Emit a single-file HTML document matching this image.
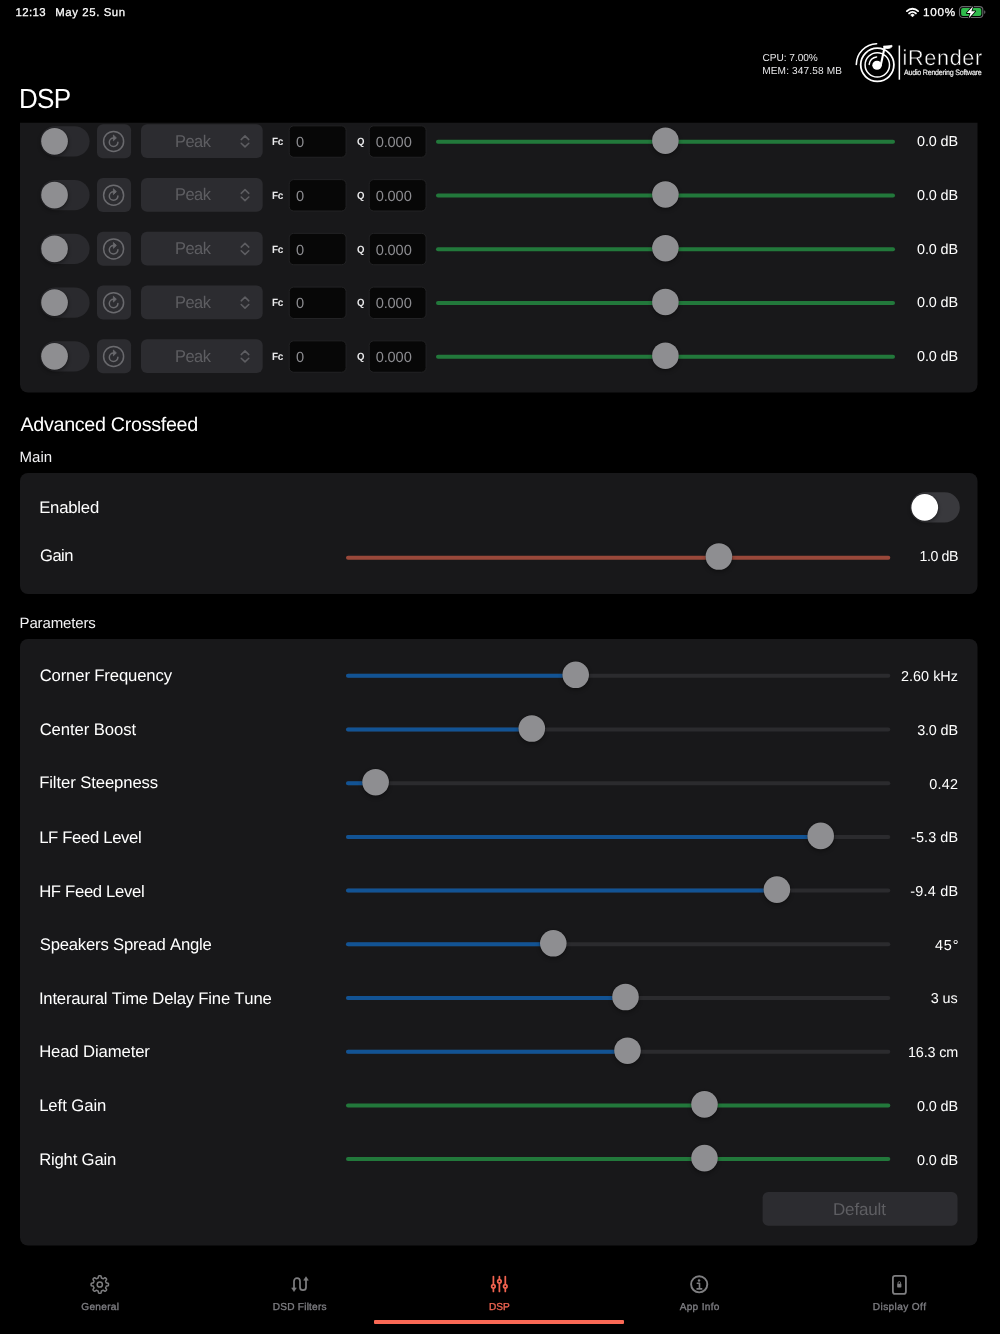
<!DOCTYPE html><html><head><meta charset="utf-8"><title>DSP</title><style>*{box-sizing:border-box;margin:0;padding:0}
html,body{width:1000px;height:1334px;background:#000;overflow:hidden}
body{position:relative;font-family:"Liberation Sans",sans-serif;color:#fff;text-rendering:geometricPrecision;font-kerning:none}
div{position:absolute;white-space:nowrap}
svg{position:absolute;overflow:visible}
.ind{left:374px;top:1319.8px;width:250px;height:4.2px;background:#fa6955;border-radius:1px}
</style></head><body>
<svg style="left:0;top:0" width="1000" height="1334" viewBox="0 0 1000 1334"><defs><filter id="kb" x="-50%" y="-50%" width="200%" height="200%"><feGaussianBlur stdDeviation="2"/></filter></defs><path d="M20 122.8H977.5V384.5a8 8 0 0 1-8 8H28a8 8 0 0 1-8-8z" fill="#18181a"/><rect x="20.00" y="473.00" width="957.50" height="121.00" rx="8" fill="#18181a"/><rect x="20.00" y="639.00" width="957.50" height="606.60" rx="8" fill="#18181a"/><rect x="40.20" y="126.15" width="49.4" height="30.3" rx="15.15" fill="#2a2a2e"/><circle cx="54.55" cy="143.30" r="13.35" fill="#000" opacity="0.4" filter="url(#kb)"/><circle cx="54.55" cy="141.30" r="13.85" fill="#000" opacity="0.22"/><circle cx="54.55" cy="141.30" r="13.35" fill="#8e8e91"/><rect x="97.00" y="124.20" width="34.10" height="34.10" rx="6" fill="#2c2c30"/><g transform="translate(97.00 124.20)" fill="none" stroke="#6a6a6e" stroke-width="1.5"><circle cx="16.6" cy="17.2" r="10"/><path d="M20.9 18a4.3 4.3 0 1 1-4.3-4.3" stroke-linecap="round"/><path d="M16.4 10.8l3 2.9-3 2.9z" fill="#6a6a6e" stroke-width="0.8" stroke-linejoin="round"/></g><rect x="141.00" y="124.20" width="121.70" height="33.90" rx="6" fill="#2c2c30"/><path transform="translate(239.00 132.30)" d="M2.2 7.3l3.8-3.7 3.8 3.7M2.2 10.9l3.8 3.7 3.8-3.7" fill="none" stroke="#5e5e62" stroke-width="1.5" stroke-linecap="round" stroke-linejoin="round"/><rect x="289.20" y="125.85" width="56.90" height="31.40" rx="4.5" fill="#070707" stroke="#232325" stroke-width="1"/><rect x="369.20" y="125.85" width="56.90" height="31.40" rx="4.5" fill="#070707" stroke="#232325" stroke-width="1"/><path d="M438.00 141.70H893.00" stroke="#22783b" stroke-width="4" stroke-linecap="round"/><circle cx="665.40" cy="142.70" r="13.30" fill="#000" opacity="0.34" filter="url(#kb)"/><circle cx="665.40" cy="140.70" r="13.80" fill="#000" opacity="0.22"/><circle cx="665.40" cy="140.70" r="13.30" fill="#8e8e91"/><rect x="40.20" y="179.90" width="49.4" height="30.3" rx="15.15" fill="#2a2a2e"/><circle cx="54.55" cy="197.05" r="13.35" fill="#000" opacity="0.4" filter="url(#kb)"/><circle cx="54.55" cy="195.05" r="13.85" fill="#000" opacity="0.22"/><circle cx="54.55" cy="195.05" r="13.35" fill="#8e8e91"/><rect x="97.00" y="177.95" width="34.10" height="34.10" rx="6" fill="#2c2c30"/><g transform="translate(97.00 177.95)" fill="none" stroke="#6a6a6e" stroke-width="1.5"><circle cx="16.6" cy="17.2" r="10"/><path d="M20.9 18a4.3 4.3 0 1 1-4.3-4.3" stroke-linecap="round"/><path d="M16.4 10.8l3 2.9-3 2.9z" fill="#6a6a6e" stroke-width="0.8" stroke-linejoin="round"/></g><rect x="141.00" y="177.95" width="121.70" height="33.90" rx="6" fill="#2c2c30"/><path transform="translate(239.00 186.05)" d="M2.2 7.3l3.8-3.7 3.8 3.7M2.2 10.9l3.8 3.7 3.8-3.7" fill="none" stroke="#5e5e62" stroke-width="1.5" stroke-linecap="round" stroke-linejoin="round"/><rect x="289.20" y="179.60" width="56.90" height="31.40" rx="4.5" fill="#070707" stroke="#232325" stroke-width="1"/><rect x="369.20" y="179.60" width="56.90" height="31.40" rx="4.5" fill="#070707" stroke="#232325" stroke-width="1"/><path d="M438.00 195.45H893.00" stroke="#22783b" stroke-width="4" stroke-linecap="round"/><circle cx="665.40" cy="196.45" r="13.30" fill="#000" opacity="0.34" filter="url(#kb)"/><circle cx="665.40" cy="194.45" r="13.80" fill="#000" opacity="0.22"/><circle cx="665.40" cy="194.45" r="13.30" fill="#8e8e91"/><rect x="40.20" y="233.65" width="49.4" height="30.3" rx="15.15" fill="#2a2a2e"/><circle cx="54.55" cy="250.80" r="13.35" fill="#000" opacity="0.4" filter="url(#kb)"/><circle cx="54.55" cy="248.80" r="13.85" fill="#000" opacity="0.22"/><circle cx="54.55" cy="248.80" r="13.35" fill="#8e8e91"/><rect x="97.00" y="231.70" width="34.10" height="34.10" rx="6" fill="#2c2c30"/><g transform="translate(97.00 231.70)" fill="none" stroke="#6a6a6e" stroke-width="1.5"><circle cx="16.6" cy="17.2" r="10"/><path d="M20.9 18a4.3 4.3 0 1 1-4.3-4.3" stroke-linecap="round"/><path d="M16.4 10.8l3 2.9-3 2.9z" fill="#6a6a6e" stroke-width="0.8" stroke-linejoin="round"/></g><rect x="141.00" y="231.70" width="121.70" height="33.90" rx="6" fill="#2c2c30"/><path transform="translate(239.00 239.80)" d="M2.2 7.3l3.8-3.7 3.8 3.7M2.2 10.9l3.8 3.7 3.8-3.7" fill="none" stroke="#5e5e62" stroke-width="1.5" stroke-linecap="round" stroke-linejoin="round"/><rect x="289.20" y="233.35" width="56.90" height="31.40" rx="4.5" fill="#070707" stroke="#232325" stroke-width="1"/><rect x="369.20" y="233.35" width="56.90" height="31.40" rx="4.5" fill="#070707" stroke="#232325" stroke-width="1"/><path d="M438.00 249.20H893.00" stroke="#22783b" stroke-width="4" stroke-linecap="round"/><circle cx="665.40" cy="250.20" r="13.30" fill="#000" opacity="0.34" filter="url(#kb)"/><circle cx="665.40" cy="248.20" r="13.80" fill="#000" opacity="0.22"/><circle cx="665.40" cy="248.20" r="13.30" fill="#8e8e91"/><rect x="40.20" y="287.40" width="49.4" height="30.3" rx="15.15" fill="#2a2a2e"/><circle cx="54.55" cy="304.55" r="13.35" fill="#000" opacity="0.4" filter="url(#kb)"/><circle cx="54.55" cy="302.55" r="13.85" fill="#000" opacity="0.22"/><circle cx="54.55" cy="302.55" r="13.35" fill="#8e8e91"/><rect x="97.00" y="285.45" width="34.10" height="34.10" rx="6" fill="#2c2c30"/><g transform="translate(97.00 285.45)" fill="none" stroke="#6a6a6e" stroke-width="1.5"><circle cx="16.6" cy="17.2" r="10"/><path d="M20.9 18a4.3 4.3 0 1 1-4.3-4.3" stroke-linecap="round"/><path d="M16.4 10.8l3 2.9-3 2.9z" fill="#6a6a6e" stroke-width="0.8" stroke-linejoin="round"/></g><rect x="141.00" y="285.45" width="121.70" height="33.90" rx="6" fill="#2c2c30"/><path transform="translate(239.00 293.55)" d="M2.2 7.3l3.8-3.7 3.8 3.7M2.2 10.9l3.8 3.7 3.8-3.7" fill="none" stroke="#5e5e62" stroke-width="1.5" stroke-linecap="round" stroke-linejoin="round"/><rect x="289.20" y="287.10" width="56.90" height="31.40" rx="4.5" fill="#070707" stroke="#232325" stroke-width="1"/><rect x="369.20" y="287.10" width="56.90" height="31.40" rx="4.5" fill="#070707" stroke="#232325" stroke-width="1"/><path d="M438.00 302.95H893.00" stroke="#22783b" stroke-width="4" stroke-linecap="round"/><circle cx="665.40" cy="303.95" r="13.30" fill="#000" opacity="0.34" filter="url(#kb)"/><circle cx="665.40" cy="301.95" r="13.80" fill="#000" opacity="0.22"/><circle cx="665.40" cy="301.95" r="13.30" fill="#8e8e91"/><rect x="40.20" y="341.15" width="49.4" height="30.3" rx="15.15" fill="#2a2a2e"/><circle cx="54.55" cy="358.30" r="13.35" fill="#000" opacity="0.4" filter="url(#kb)"/><circle cx="54.55" cy="356.30" r="13.85" fill="#000" opacity="0.22"/><circle cx="54.55" cy="356.30" r="13.35" fill="#8e8e91"/><rect x="97.00" y="339.20" width="34.10" height="34.10" rx="6" fill="#2c2c30"/><g transform="translate(97.00 339.20)" fill="none" stroke="#6a6a6e" stroke-width="1.5"><circle cx="16.6" cy="17.2" r="10"/><path d="M20.9 18a4.3 4.3 0 1 1-4.3-4.3" stroke-linecap="round"/><path d="M16.4 10.8l3 2.9-3 2.9z" fill="#6a6a6e" stroke-width="0.8" stroke-linejoin="round"/></g><rect x="141.00" y="339.20" width="121.70" height="33.90" rx="6" fill="#2c2c30"/><path transform="translate(239.00 347.30)" d="M2.2 7.3l3.8-3.7 3.8 3.7M2.2 10.9l3.8 3.7 3.8-3.7" fill="none" stroke="#5e5e62" stroke-width="1.5" stroke-linecap="round" stroke-linejoin="round"/><rect x="289.20" y="340.85" width="56.90" height="31.40" rx="4.5" fill="#070707" stroke="#232325" stroke-width="1"/><rect x="369.20" y="340.85" width="56.90" height="31.40" rx="4.5" fill="#070707" stroke="#232325" stroke-width="1"/><path d="M438.00 356.70H893.00" stroke="#22783b" stroke-width="4" stroke-linecap="round"/><circle cx="665.40" cy="357.70" r="13.30" fill="#000" opacity="0.34" filter="url(#kb)"/><circle cx="665.40" cy="355.70" r="13.80" fill="#000" opacity="0.22"/><circle cx="665.40" cy="355.70" r="13.30" fill="#8e8e91"/><rect x="910.40" y="492.25" width="49.4" height="30.3" rx="15.15" fill="#39393d"/><circle cx="924.75" cy="509.40" r="13.35" fill="#000" opacity="0.4" filter="url(#kb)"/><circle cx="924.75" cy="507.40" r="13.85" fill="#000" opacity="0.22"/><circle cx="924.75" cy="507.40" r="13.35" fill="#fff"/><path d="M348.00 557.80H888.30" stroke="#99483a" stroke-width="4" stroke-linecap="round"/><circle cx="718.90" cy="558.50" r="13.30" fill="#000" opacity="0.34" filter="url(#kb)"/><circle cx="718.90" cy="556.50" r="13.80" fill="#000" opacity="0.22"/><circle cx="718.90" cy="556.50" r="13.30" fill="#8e8e91"/><path d="M348.00 675.80H888.30" stroke="#2b2b2e" stroke-width="4" stroke-linecap="round"/><path d="M348.00 675.80H575.70" stroke="#125394" stroke-width="4" stroke-linecap="round"/><circle cx="575.70" cy="676.80" r="13.30" fill="#000" opacity="0.34" filter="url(#kb)"/><circle cx="575.70" cy="674.80" r="13.80" fill="#000" opacity="0.22"/><circle cx="575.70" cy="674.80" r="13.30" fill="#8e8e91"/><path d="M348.00 729.50H888.30" stroke="#2b2b2e" stroke-width="4" stroke-linecap="round"/><path d="M348.00 729.50H531.80" stroke="#125394" stroke-width="4" stroke-linecap="round"/><circle cx="531.80" cy="730.50" r="13.30" fill="#000" opacity="0.34" filter="url(#kb)"/><circle cx="531.80" cy="728.50" r="13.80" fill="#000" opacity="0.22"/><circle cx="531.80" cy="728.50" r="13.30" fill="#8e8e91"/><path d="M348.00 783.20H888.30" stroke="#2b2b2e" stroke-width="4" stroke-linecap="round"/><path d="M348.00 783.20H375.60" stroke="#125394" stroke-width="4" stroke-linecap="round"/><circle cx="375.60" cy="784.20" r="13.30" fill="#000" opacity="0.34" filter="url(#kb)"/><circle cx="375.60" cy="782.20" r="13.80" fill="#000" opacity="0.22"/><circle cx="375.60" cy="782.20" r="13.30" fill="#8e8e91"/><path d="M348.00 836.90H888.30" stroke="#2b2b2e" stroke-width="4" stroke-linecap="round"/><path d="M348.00 836.90H820.70" stroke="#125394" stroke-width="4" stroke-linecap="round"/><circle cx="820.70" cy="837.90" r="13.30" fill="#000" opacity="0.34" filter="url(#kb)"/><circle cx="820.70" cy="835.90" r="13.80" fill="#000" opacity="0.22"/><circle cx="820.70" cy="835.90" r="13.30" fill="#8e8e91"/><path d="M348.00 890.60H888.30" stroke="#2b2b2e" stroke-width="4" stroke-linecap="round"/><path d="M348.00 890.60H776.90" stroke="#125394" stroke-width="4" stroke-linecap="round"/><circle cx="776.90" cy="891.60" r="13.30" fill="#000" opacity="0.34" filter="url(#kb)"/><circle cx="776.90" cy="889.60" r="13.80" fill="#000" opacity="0.22"/><circle cx="776.90" cy="889.60" r="13.30" fill="#8e8e91"/><path d="M348.00 944.30H888.30" stroke="#2b2b2e" stroke-width="4" stroke-linecap="round"/><path d="M348.00 944.30H553.30" stroke="#125394" stroke-width="4" stroke-linecap="round"/><circle cx="553.30" cy="945.30" r="13.30" fill="#000" opacity="0.34" filter="url(#kb)"/><circle cx="553.30" cy="943.30" r="13.80" fill="#000" opacity="0.22"/><circle cx="553.30" cy="943.30" r="13.30" fill="#8e8e91"/><path d="M348.00 998.00H888.30" stroke="#2b2b2e" stroke-width="4" stroke-linecap="round"/><path d="M348.00 998.00H625.50" stroke="#125394" stroke-width="4" stroke-linecap="round"/><circle cx="625.50" cy="999.00" r="13.30" fill="#000" opacity="0.34" filter="url(#kb)"/><circle cx="625.50" cy="997.00" r="13.80" fill="#000" opacity="0.22"/><circle cx="625.50" cy="997.00" r="13.30" fill="#8e8e91"/><path d="M348.00 1051.70H888.30" stroke="#2b2b2e" stroke-width="4" stroke-linecap="round"/><path d="M348.00 1051.70H627.50" stroke="#125394" stroke-width="4" stroke-linecap="round"/><circle cx="627.50" cy="1052.70" r="13.30" fill="#000" opacity="0.34" filter="url(#kb)"/><circle cx="627.50" cy="1050.70" r="13.80" fill="#000" opacity="0.22"/><circle cx="627.50" cy="1050.70" r="13.30" fill="#8e8e91"/><path d="M348.00 1105.40H888.30" stroke="#22783b" stroke-width="4" stroke-linecap="round"/><circle cx="704.50" cy="1106.40" r="13.30" fill="#000" opacity="0.34" filter="url(#kb)"/><circle cx="704.50" cy="1104.40" r="13.80" fill="#000" opacity="0.22"/><circle cx="704.50" cy="1104.40" r="13.30" fill="#8e8e91"/><path d="M348.00 1159.10H888.30" stroke="#22783b" stroke-width="4" stroke-linecap="round"/><circle cx="704.50" cy="1160.10" r="13.30" fill="#000" opacity="0.34" filter="url(#kb)"/><circle cx="704.50" cy="1158.10" r="13.80" fill="#000" opacity="0.22"/><circle cx="704.50" cy="1158.10" r="13.30" fill="#8e8e91"/><rect x="762.60" y="1192.10" width="194.90" height="33.60" rx="5.5" fill="#2c2c30"/></svg>
<div style="left:15.43px;top:6.00px;font-size:11.4px;line-height:15px;letter-spacing:0.410px;color:#fff;-webkit-text-stroke:0.25px #fff;">12:13</div>
<div style="left:55.26px;top:6.00px;font-size:11.4px;line-height:15px;letter-spacing:0.587px;color:#fff;-webkit-text-stroke:0.25px #fff;">May 25. Sun</div>
<div style="left:922.91px;top:6.00px;font-size:11.4px;line-height:15px;letter-spacing:0.684px;color:#fff;transform:scaleX(1.0289);transform-origin:0 0;-webkit-text-stroke:0.25px #fff;">100%</div>
<svg style="left:904px;top:5px" width="17" height="14" viewBox="0 0 17 14"><path d="M2.9 6.1a8 8 0 0 1 11.2 0M5.1 8.4a4.9 4.9 0 0 1 6.8 0" fill="none" stroke="#fff" stroke-width="1.9" stroke-linecap="round"/><path d="M8.5 11.9l-1.9-2a2.7 2.7 0 0 1 3.8 0z" fill="#fff" stroke="#fff" stroke-width="0.5" stroke-linejoin="round"/></svg>
<svg style="left:958px;top:5px" width="30" height="15" viewBox="0 0 30 15"><rect x="1.5" y="1.6" width="23.3" height="10.9" rx="3.2" fill="none" stroke="#67676b" stroke-width="1.1"/><rect x="3.1" y="3.1" width="20.2" height="7.9" rx="1.9" fill="#2fba4c"/><path d="M26.2 5.3v3.6c.8-.3 1.2-.9 1.2-1.8s-.4-1.5-1.2-1.8z" fill="#67676b"/><path d="M15.2 0.9l-6.4 7.2h3.7l-1.9 5.5 6.6-7.4h-3.8z" fill="#fff" stroke="#000" stroke-width="1.6" paint-order="stroke" stroke-linejoin="round"/></svg>
<svg style="left:850px;top:38px" width="140" height="50" viewBox="0 0 140 50"><g fill="none" stroke="#fff" stroke-linecap="round"><circle cx="27.3" cy="26.8" r="16.6" stroke-width="1.8"/><circle cx="27.3" cy="26.9" r="12.2" stroke-width="1.5"/><path d="M6.3 26.4A21 21 0 0 1 26.6 5.8" stroke-width="1.6"/><path d="M19.2 26.4A8.1 8.1 0 0 1 26.6 18.9" stroke-width="1.5"/><path d="M30.7 27.5L34.6 9.2" stroke-width="2.1"/><path d="M33.8 8.1C36.5 7.9 39.5 8 41.9 7.3L42.1 8.6C40.5 10.6 37 11.2 34.3 10z" fill="#fff" stroke-width="0.8" stroke-linejoin="round"/></g><ellipse cx="27" cy="27.3" rx="4.7" ry="4.5" fill="#fff"/><rect x="48.6" y="7.5" width="1.5" height="34.2" fill="#fff"/></svg>

<div style="left:762.49px;top:52.00px;font-size:10.1px;line-height:13px;letter-spacing:-0.022px;color:#e6e6e8;">CPU: 7.00%</div>
<div style="left:762.17px;top:65.00px;font-size:10.1px;line-height:13px;letter-spacing:0.141px;color:#e6e6e8;">MEM: 347.58 MB</div>
<div style="left:19.16px;top:81.00px;font-size:27.6px;line-height:36px;letter-spacing:-0.828px;color:#fff;transform:scaleX(0.9441);transform-origin:0 0;">DSP</div>
<div style="left:902.56px;top:44.00px;font-size:21.6px;line-height:28px;letter-spacing:0.677px;color:#fff;-webkit-text-stroke:0.45px #000;">iRender</div>
<div style="left:904.19px;top:68.00px;font-size:7.8px;line-height:10px;letter-spacing:-0.234px;color:#ededed;transform:scaleX(0.9073);transform-origin:0 0;-webkit-text-stroke:0.2px #ededed;">Audio Rendering Software</div>
<div style="left:175.25px;top:131.00px;font-size:17.0px;line-height:22px;letter-spacing:-0.510px;color:#5e5e62;transform:scaleX(0.9652);transform-origin:0 0;">Peak</div>
<div style="left:272.23px;top:135.00px;font-size:10.5px;line-height:14px;letter-spacing:-0.315px;color:#ebebed;font-weight:bold;transform:scaleX(0.9516);transform-origin:0 0;">Fc</div>
<div style="left:356.50px;top:135.00px;font-size:10.5px;line-height:14px;letter-spacing:0.000px;color:#ebebed;font-weight:bold;transform:scaleX(0.9184);transform-origin:0 0;">Q</div>
<div style="left:295.53px;top:134.00px;font-size:14.6px;line-height:19px;letter-spacing:0.000px;color:#8c8c90;transform:scaleX(1.0030);transform-origin:0 0;">0</div>
<div style="left:375.63px;top:134.00px;font-size:14.6px;line-height:19px;letter-spacing:-0.099px;color:#8c8c90;">0.000</div>
<div style="left:917.04px;top:133.00px;font-size:14.4px;line-height:19px;letter-spacing:-0.122px;color:#fff;">0.0 dB</div>
<div style="left:175.25px;top:184.00px;font-size:17.0px;line-height:22px;letter-spacing:-0.510px;color:#5e5e62;transform:scaleX(0.9652);transform-origin:0 0;">Peak</div>
<div style="left:272.23px;top:189.00px;font-size:10.5px;line-height:14px;letter-spacing:-0.315px;color:#ebebed;font-weight:bold;transform:scaleX(0.9516);transform-origin:0 0;">Fc</div>
<div style="left:356.50px;top:189.00px;font-size:10.5px;line-height:14px;letter-spacing:0.000px;color:#ebebed;font-weight:bold;transform:scaleX(0.9184);transform-origin:0 0;">Q</div>
<div style="left:295.53px;top:188.00px;font-size:14.6px;line-height:19px;letter-spacing:0.000px;color:#8c8c90;transform:scaleX(1.0030);transform-origin:0 0;">0</div>
<div style="left:375.63px;top:188.00px;font-size:14.6px;line-height:19px;letter-spacing:-0.099px;color:#8c8c90;">0.000</div>
<div style="left:917.04px;top:187.00px;font-size:14.4px;line-height:19px;letter-spacing:-0.122px;color:#fff;">0.0 dB</div>
<div style="left:175.25px;top:238.00px;font-size:17.0px;line-height:22px;letter-spacing:-0.510px;color:#5e5e62;transform:scaleX(0.9652);transform-origin:0 0;">Peak</div>
<div style="left:272.23px;top:243.00px;font-size:10.5px;line-height:14px;letter-spacing:-0.315px;color:#ebebed;font-weight:bold;transform:scaleX(0.9516);transform-origin:0 0;">Fc</div>
<div style="left:356.50px;top:243.00px;font-size:10.5px;line-height:14px;letter-spacing:0.000px;color:#ebebed;font-weight:bold;transform:scaleX(0.9184);transform-origin:0 0;">Q</div>
<div style="left:295.53px;top:242.00px;font-size:14.6px;line-height:19px;letter-spacing:0.000px;color:#8c8c90;transform:scaleX(1.0030);transform-origin:0 0;">0</div>
<div style="left:375.63px;top:242.00px;font-size:14.6px;line-height:19px;letter-spacing:-0.099px;color:#8c8c90;">0.000</div>
<div style="left:917.04px;top:241.00px;font-size:14.4px;line-height:19px;letter-spacing:-0.122px;color:#fff;">0.0 dB</div>
<div style="left:175.25px;top:292.00px;font-size:17.0px;line-height:22px;letter-spacing:-0.510px;color:#5e5e62;transform:scaleX(0.9652);transform-origin:0 0;">Peak</div>
<div style="left:272.23px;top:296.00px;font-size:10.5px;line-height:14px;letter-spacing:-0.315px;color:#ebebed;font-weight:bold;transform:scaleX(0.9516);transform-origin:0 0;">Fc</div>
<div style="left:356.50px;top:296.00px;font-size:10.5px;line-height:14px;letter-spacing:0.000px;color:#ebebed;font-weight:bold;transform:scaleX(0.9184);transform-origin:0 0;">Q</div>
<div style="left:295.53px;top:295.00px;font-size:14.6px;line-height:19px;letter-spacing:0.000px;color:#8c8c90;transform:scaleX(1.0030);transform-origin:0 0;">0</div>
<div style="left:375.63px;top:295.00px;font-size:14.6px;line-height:19px;letter-spacing:-0.099px;color:#8c8c90;">0.000</div>
<div style="left:917.04px;top:294.00px;font-size:14.4px;line-height:19px;letter-spacing:-0.122px;color:#fff;">0.0 dB</div>
<div style="left:175.25px;top:346.00px;font-size:17.0px;line-height:22px;letter-spacing:-0.510px;color:#5e5e62;transform:scaleX(0.9652);transform-origin:0 0;">Peak</div>
<div style="left:272.23px;top:350.00px;font-size:10.5px;line-height:14px;letter-spacing:-0.315px;color:#ebebed;font-weight:bold;transform:scaleX(0.9516);transform-origin:0 0;">Fc</div>
<div style="left:356.50px;top:350.00px;font-size:10.5px;line-height:14px;letter-spacing:0.000px;color:#ebebed;font-weight:bold;transform:scaleX(0.9184);transform-origin:0 0;">Q</div>
<div style="left:295.53px;top:349.00px;font-size:14.6px;line-height:19px;letter-spacing:0.000px;color:#8c8c90;transform:scaleX(1.0030);transform-origin:0 0;">0</div>
<div style="left:375.63px;top:349.00px;font-size:14.6px;line-height:19px;letter-spacing:-0.099px;color:#8c8c90;">0.000</div>
<div style="left:917.04px;top:348.00px;font-size:14.4px;line-height:19px;letter-spacing:-0.122px;color:#fff;">0.0 dB</div>
<div style="left:20.46px;top:412.00px;font-size:19.7px;line-height:26px;letter-spacing:-0.298px;color:#fff;">Advanced Crossfeed</div>
<div style="left:19.57px;top:448.00px;font-size:15.0px;line-height:20px;letter-spacing:0.031px;color:#f2f2f4;">Main</div>
<div style="left:39.13px;top:497.00px;font-size:16.7px;line-height:22px;letter-spacing:-0.190px;color:#fff;">Enabled</div>
<div style="left:39.97px;top:545.00px;font-size:16.7px;line-height:22px;letter-spacing:-0.501px;color:#fff;transform:scaleX(0.9922);transform-origin:0 0;">Gain</div>
<div style="left:918.58px;top:548.00px;font-size:14.4px;line-height:19px;letter-spacing:-0.432px;color:#fff;transform:scaleX(0.9863);transform-origin:100% 0;">1.0 dB</div>
<div style="left:19.57px;top:614.00px;font-size:15.0px;line-height:20px;letter-spacing:-0.150px;color:#f2f2f4;">Parameters</div>
<div style="left:39.65px;top:665.00px;font-size:16.7px;line-height:22px;letter-spacing:-0.140px;color:#fff;">Corner Frequency</div>
<div style="left:900.98px;top:668.00px;font-size:14.4px;line-height:19px;letter-spacing:0.031px;color:#fff;">2.60 kHz</div>
<div style="left:39.65px;top:719.00px;font-size:16.7px;line-height:22px;letter-spacing:-0.082px;color:#fff;">Center Boost</div>
<div style="left:917.15px;top:722.00px;font-size:14.4px;line-height:19px;letter-spacing:-0.145px;color:#fff;">3.0 dB</div>
<div style="left:39.13px;top:772.00px;font-size:16.7px;line-height:22px;letter-spacing:-0.100px;color:#fff;">Filter Steepness</div>
<div style="left:929.34px;top:776.00px;font-size:14.4px;line-height:19px;letter-spacing:0.220px;color:#fff;">0.42</div>
<div style="left:39.13px;top:827.00px;font-size:16.7px;line-height:22px;letter-spacing:-0.339px;color:#fff;">LF Feed Level</div>
<div style="left:911.06px;top:829.00px;font-size:14.4px;line-height:19px;letter-spacing:0.095px;color:#fff;">-5.3 dB</div>
<div style="left:39.13px;top:881.00px;font-size:16.7px;line-height:22px;letter-spacing:-0.320px;color:#fff;">HF Feed Level</div>
<div style="left:910.36px;top:883.00px;font-size:14.4px;line-height:19px;letter-spacing:0.212px;color:#fff;">-9.4 dB</div>
<div style="left:39.74px;top:934.00px;font-size:16.7px;line-height:22px;letter-spacing:-0.210px;color:#fff;">Speakers Spread Angle</div>
<div style="left:934.67px;top:937.00px;font-size:14.4px;line-height:19px;letter-spacing:0.864px;color:#fff;transform:scaleX(1.0041);transform-origin:100% 0;">45°</div>
<div style="left:38.96px;top:988.00px;font-size:16.7px;line-height:22px;letter-spacing:-0.216px;color:#fff;">Interaural Time Delay Fine Tune</div>
<div style="left:930.65px;top:990.00px;font-size:14.4px;line-height:19px;letter-spacing:-0.016px;color:#fff;">3 us</div>
<div style="left:39.13px;top:1041.00px;font-size:16.7px;line-height:22px;letter-spacing:-0.122px;color:#fff;">Head Diameter</div>
<div style="left:908.00px;top:1044.00px;font-size:14.4px;line-height:19px;letter-spacing:-0.163px;color:#fff;">16.3 cm</div>
<div style="left:39.13px;top:1095.00px;font-size:16.7px;line-height:22px;letter-spacing:-0.064px;color:#fff;">Left Gain</div>
<div style="left:917.04px;top:1098.00px;font-size:14.4px;line-height:19px;letter-spacing:-0.122px;color:#fff;">0.0 dB</div>
<div style="left:39.13px;top:1149.00px;font-size:16.7px;line-height:22px;letter-spacing:-0.183px;color:#fff;">Right Gain</div>
<div style="left:917.04px;top:1152.00px;font-size:14.4px;line-height:19px;letter-spacing:-0.122px;color:#fff;">0.0 dB</div>
<div style="left:833.01px;top:1199.00px;font-size:17.0px;line-height:22px;letter-spacing:-0.157px;color:#5e5e62;">Default</div>
<div class="ind"></div>
<svg style="left:88px;top:1272.5px" width="24" height="24" viewBox="-11.8 -11.5 24 24"><g fill="none" stroke="#7e7e80" stroke-width="1.5" stroke-linejoin="round"><path d="M0.00 -8.70L0.28 -8.69L0.57 -8.67L0.85 -8.62L1.12 -8.50L1.34 -8.13L1.46 -7.35L1.56 -6.70L1.73 -6.44L1.92 -6.33L2.12 -6.25L2.33 -6.18L2.53 -6.10L2.72 -6.01L2.92 -5.92L3.12 -5.84L3.34 -5.78L3.63 -5.84L4.16 -6.23L4.80 -6.69L5.22 -6.80L5.50 -6.70L5.73 -6.53L5.94 -6.35L6.15 -6.15L6.35 -5.94L6.53 -5.73L6.70 -5.50L6.80 -5.22L6.69 -4.80L6.23 -4.16L5.84 -3.63L5.78 -3.34L5.84 -3.12L5.92 -2.92L6.01 -2.72L6.10 -2.53L6.18 -2.33L6.25 -2.12L6.33 -1.92L6.44 -1.73L6.70 -1.56L7.35 -1.46L8.13 -1.34L8.50 -1.12L8.62 -0.85L8.67 -0.57L8.69 -0.28L8.70 -0.00L8.69 0.28L8.67 0.57L8.62 0.85L8.50 1.12L8.13 1.34L7.35 1.46L6.70 1.56L6.44 1.73L6.33 1.92L6.25 2.12L6.18 2.33L6.10 2.53L6.01 2.72L5.92 2.92L5.84 3.12L5.78 3.34L5.84 3.63L6.23 4.16L6.69 4.80L6.80 5.22L6.70 5.50L6.53 5.73L6.35 5.94L6.15 6.15L5.94 6.35L5.73 6.53L5.50 6.70L5.22 6.80L4.80 6.69L4.16 6.23L3.63 5.84L3.34 5.78L3.12 5.84L2.92 5.92L2.72 6.01L2.53 6.10L2.33 6.18L2.12 6.25L1.92 6.33L1.73 6.44L1.56 6.70L1.46 7.35L1.34 8.13L1.12 8.50L0.85 8.62L0.57 8.67L0.28 8.69L0.00 8.70L-0.28 8.69L-0.57 8.67L-0.85 8.62L-1.12 8.50L-1.34 8.13L-1.46 7.35L-1.56 6.70L-1.73 6.44L-1.92 6.33L-2.12 6.25L-2.33 6.18L-2.53 6.10L-2.72 6.01L-2.92 5.92L-3.12 5.84L-3.34 5.78L-3.63 5.84L-4.16 6.23L-4.80 6.69L-5.22 6.80L-5.50 6.70L-5.73 6.53L-5.94 6.35L-6.15 6.15L-6.35 5.94L-6.53 5.73L-6.70 5.50L-6.80 5.22L-6.69 4.80L-6.23 4.16L-5.84 3.63L-5.78 3.34L-5.84 3.12L-5.92 2.92L-6.01 2.72L-6.10 2.53L-6.18 2.33L-6.25 2.12L-6.33 1.92L-6.44 1.73L-6.70 1.56L-7.35 1.46L-8.13 1.34L-8.50 1.12L-8.62 0.85L-8.67 0.57L-8.69 0.28L-8.70 0.00L-8.69 -0.28L-8.67 -0.57L-8.62 -0.85L-8.50 -1.12L-8.13 -1.34L-7.35 -1.46L-6.70 -1.56L-6.44 -1.73L-6.33 -1.92L-6.25 -2.12L-6.18 -2.33L-6.10 -2.53L-6.01 -2.72L-5.92 -2.92L-5.84 -3.12L-5.78 -3.34L-5.84 -3.63L-6.23 -4.16L-6.69 -4.80L-6.80 -5.22L-6.70 -5.50L-6.53 -5.73L-6.35 -5.94L-6.15 -6.15L-5.94 -6.35L-5.73 -6.53L-5.50 -6.70L-5.22 -6.80L-4.80 -6.69L-4.16 -6.23L-3.63 -5.84L-3.34 -5.78L-3.12 -5.84L-2.92 -5.92L-2.72 -6.01L-2.53 -6.10L-2.33 -6.18L-2.12 -6.25L-1.92 -6.33L-1.73 -6.44L-1.56 -6.70L-1.46 -7.35L-1.34 -8.13L-1.12 -8.50L-0.85 -8.62L-0.57 -8.67L-0.28 -8.69Z"/><circle r="2.6"/></g></svg>
<svg style="left:288px;top:1272px" width="24" height="24" viewBox="0 0 24 24"><path d="M6 17V9.2a3 3 0 0 1 6 0v6a3 3 0 0 0 6 0V7.5" fill="none" stroke="#7e7e80" stroke-width="1.7" stroke-linecap="round"/><path d="M3.7 15.9h4.6L6 19.5zM15.7 8.3h4.6L18 4.7z" fill="#7e7e80" stroke="#7e7e80" stroke-width="0.6" stroke-linejoin="round"/></svg>
<svg style="left:488px;top:1272px" width="24" height="24" viewBox="0 0 24 24"><g fill="none" stroke="#f0624f" stroke-width="1.75" stroke-linecap="round"><path d="M5.4 4.5v7.6M5.4 16.4v3M11.4 4.5v2.7M11.4 11.4v8M17.3 4.5v7.6M17.3 16.4v3"/><circle cx="5.4" cy="14.3" r="1.75"/><circle cx="11.4" cy="9.3" r="1.75"/><circle cx="17.3" cy="14.3" r="1.75"/></g></svg>
<svg style="left:687px;top:1272px" width="24" height="24" viewBox="0 0 24 24"><circle cx="12.2" cy="12.3" r="8.1" fill="none" stroke="#7e7e80" stroke-width="1.9"/><circle cx="12" cy="8.4" r="1.25" fill="#7e7e80"/><path d="M10.3 11.2h2.2v5.6M10.1 16.9h4.6" fill="none" stroke="#7e7e80" stroke-width="1.6" stroke-linecap="round" stroke-linejoin="round"/></svg>
<svg style="left:887px;top:1272px" width="24" height="24" viewBox="0 0 24 24"><rect x="5.9" y="3.9" width="13" height="18" rx="2.2" fill="none" stroke="#7e7e80" stroke-width="1.8"/><rect x="10.2" y="11.8" width="4.2" height="3.6" rx="0.6" fill="#7e7e80"/><path d="M11 12v-1.1a1.3 1.3 0 0 1 2.6 0V12" fill="none" stroke="#7e7e80" stroke-width="0.9"/></svg>

<div style="left:81.29px;top:1301.00px;font-size:10.1px;line-height:13px;letter-spacing:0.292px;color:#7c7c80;-webkit-text-stroke:0.35px #7c7c80;">General</div>
<div style="left:272.87px;top:1301.00px;font-size:10.1px;line-height:13px;letter-spacing:0.207px;color:#7c7c80;-webkit-text-stroke:0.35px #7c7c80;">DSD Filters</div>
<div style="left:488.97px;top:1301.00px;font-size:10.1px;line-height:13px;letter-spacing:-0.003px;color:#ec6350;-webkit-text-stroke:0.35px #ec6350;">DSP</div>
<div style="left:679.68px;top:1301.00px;font-size:10.1px;line-height:13px;letter-spacing:0.303px;color:#7c7c80;-webkit-text-stroke:0.35px #7c7c80;">App Info</div>
<div style="left:872.87px;top:1301.00px;font-size:10.1px;line-height:13px;letter-spacing:0.372px;color:#7c7c80;-webkit-text-stroke:0.35px #7c7c80;">Display Off</div>
</body></html>
